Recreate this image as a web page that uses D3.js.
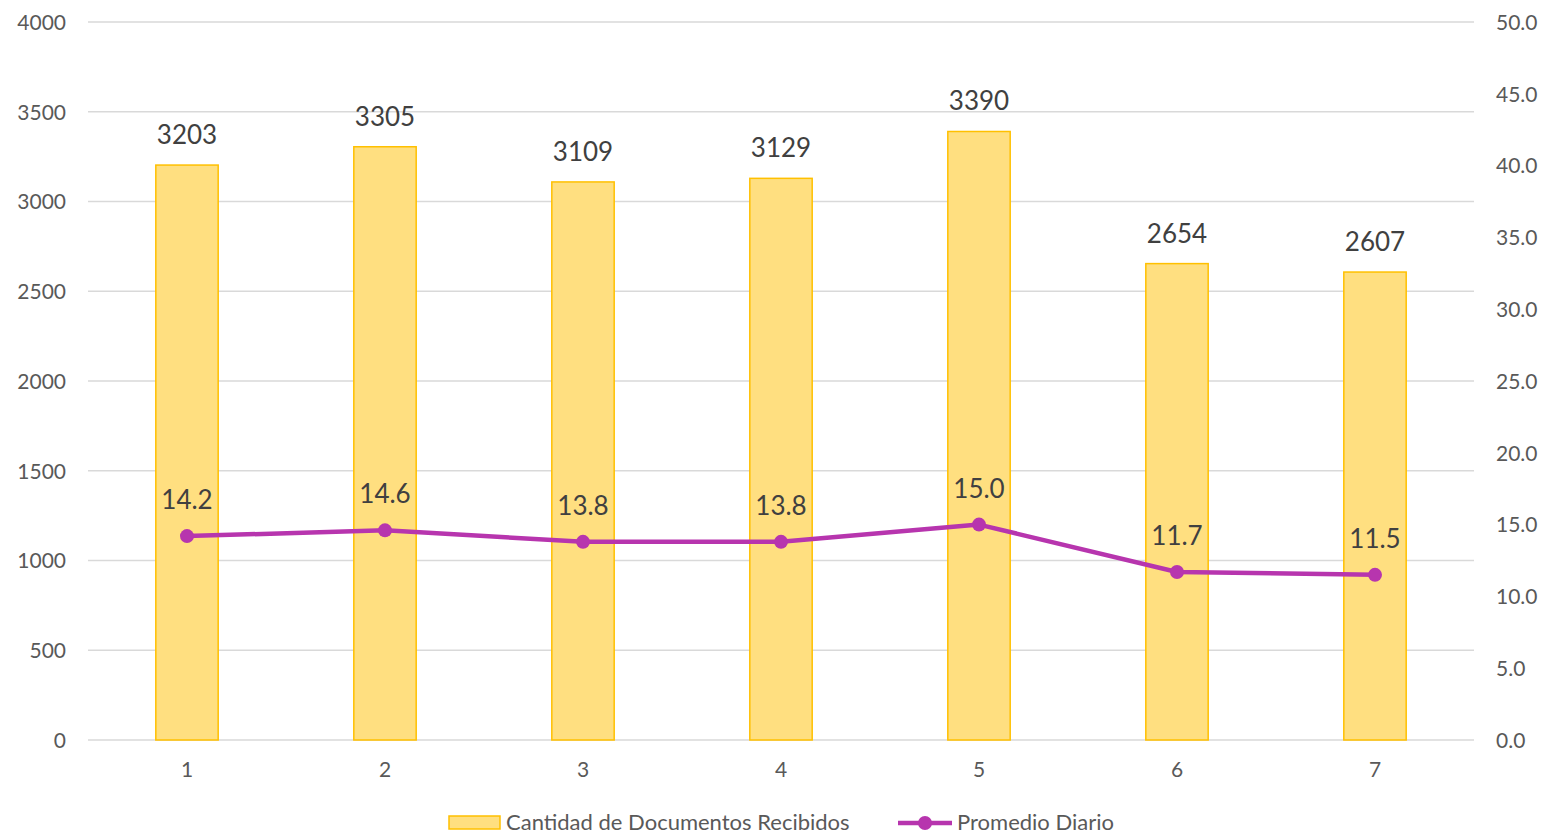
<!DOCTYPE html>
<html>
<head>
<meta charset="utf-8">
<script src="https://cdn.jsdelivr.net/npm/d3@7"></script>
<style>
  body { margin: 0; background: #fff; }
  text { font-family: Lato, "Open Sans", sans-serif; }
</style>
</head>
<body>
<div id="vis"></div>
<script>
// data
const CATEGORIES = ["1", "2", "3", "4", "5", "6", "7"];
const DOCUMENTOS = [3203, 3305, 3109, 3129, 3390, 2654, 2607];
const PROMEDIO = [14.2, 14.6, 13.8, 13.8, 15.0, 11.7, 11.5];
const LEFT_TICKS = [0, 500, 1000, 1500, 2000, 2500, 3000, 3500, 4000];
const RIGHT_TICKS = [0, 5, 10, 15, 20, 25, 30, 35, 40, 45, 50];
const SERIES_NAMES = ["Cantidad de Documentos Recibidos", "Promedio Diario"];

// set constants
const FRAME_WIDTH = 1543;
const FRAME_HEIGHT = 836;
const PLOT = {left: 88, right: 1474, top: 22, bottom: 740};

const BAR_FILL = "#FFDF80";
const BAR_STROKE = "#FFC000";
const LINE_COLOR = "#B735AE";

const FRAME = d3.select("#vis")
  .append("svg")
    .attr("width", FRAME_WIDTH)
    .attr("height", FRAME_HEIGHT);

const X_SCALE = d3.scaleBand()
  .domain(CATEGORIES)
  .range([PLOT.left, PLOT.right])
  .padding(0);

const Y_LEFT = d3.scaleLinear()
  .domain([0, 4000])
  .range([PLOT.bottom, PLOT.top]);

const Y_RIGHT = d3.scaleLinear()
  .domain([0, 50])
  .range([PLOT.bottom, PLOT.top]);

const BAR_W = X_SCALE.bandwidth() * 0.315;
const cx = (c) => X_SCALE(c) + X_SCALE.bandwidth() / 2;

// gridlines
FRAME.append("g")
  .selectAll("line")
  .data(LEFT_TICKS)
  .enter()
  .append("line")
    .attr("x1", PLOT.left)
    .attr("x2", PLOT.right)
    .attr("y1", d => Y_LEFT(d))
    .attr("y2", d => Y_LEFT(d))
    .attr("stroke", "#d9d9d9")
    .attr("stroke-width", 1.3);

// left axis
const leftAxis = FRAME.append("g")
  .attr("transform", "translate(" + (PLOT.left - 22) + ",0)")
  .call(d3.axisLeft(Y_LEFT).tickValues(LEFT_TICKS).tickSize(0).tickPadding(0).tickFormat(d3.format("d")));
leftAxis.select(".domain").remove();
leftAxis.selectAll("text")
  .attr("fill", "#595959")
  .style("font-size", "21px")
  .attr("dy", "0.35em");

// right axis
const rightAxis = FRAME.append("g")
  .attr("transform", "translate(" + (PLOT.right + 22) + ",0)")
  .call(d3.axisRight(Y_RIGHT).tickValues(RIGHT_TICKS).tickSize(0).tickPadding(0).tickFormat(d3.format(".1f")));
rightAxis.select(".domain").remove();
rightAxis.selectAll("text")
  .attr("fill", "#595959")
  .style("font-size", "21px")
  .attr("dy", "0.35em");

// bottom axis
const bottomAxis = FRAME.append("g")
  .attr("transform", "translate(0," + (PLOT.bottom + 22) + ")")
  .call(d3.axisBottom(X_SCALE).tickSize(0).tickPadding(0));
bottomAxis.select(".domain").remove();
bottomAxis.selectAll("text")
  .attr("fill", "#595959")
  .style("font-size", "21px")
  .attr("dy", "0.71em");

// bars
FRAME.append("g")
  .selectAll("rect")
  .data(DOCUMENTOS)
  .enter()
  .append("rect")
    .attr("x", (d, i) => cx(CATEGORIES[i]) - BAR_W / 2)
    .attr("y", d => Y_LEFT(d))
    .attr("width", BAR_W)
    .attr("height", d => PLOT.bottom - Y_LEFT(d))
    .attr("fill", BAR_FILL)
    .attr("stroke", BAR_STROKE)
    .attr("stroke-width", 1.5);

// bar labels
FRAME.append("g")
  .selectAll("text")
  .data(DOCUMENTOS)
  .enter()
  .append("text")
    .attr("x", (d, i) => cx(CATEGORIES[i]))
    .attr("y", d => Y_LEFT(d) - 21)
    .attr("text-anchor", "middle")
    .attr("fill", "#404040")
    .style("font-size", "26px")
    .text(d => d);

// line
const line = d3.line()
  .x((d, i) => cx(CATEGORIES[i]))
  .y(d => Y_RIGHT(d));

FRAME.append("path")
  .datum(PROMEDIO)
  .attr("d", line)
  .attr("fill", "none")
  .attr("stroke", LINE_COLOR)
  .attr("stroke-width", 4.5)
  .attr("stroke-linejoin", "round");

FRAME.append("g")
  .selectAll("circle")
  .data(PROMEDIO)
  .enter()
  .append("circle")
    .attr("cx", (d, i) => cx(CATEGORIES[i]))
    .attr("cy", d => Y_RIGHT(d))
    .attr("r", 7)
    .attr("fill", LINE_COLOR);

// line labels
FRAME.append("g")
  .selectAll("text")
  .data(PROMEDIO)
  .enter()
  .append("text")
    .attr("x", (d, i) => cx(CATEGORIES[i]))
    .attr("y", d => Y_RIGHT(d) - 27)
    .attr("text-anchor", "middle")
    .attr("fill", "#404040")
    .style("font-size", "26px")
    .text(d => d3.format(".1f")(d));

// legend (nudged up slightly so descenders stay inside the frame)
const LEG = FRAME.append("g");
LEG.append("rect")
  .attr("x", 449).attr("y", 816)
  .attr("width", 51).attr("height", 13)
  .attr("fill", BAR_FILL)
  .attr("stroke", BAR_STROKE)
  .attr("stroke-width", 1.5);
LEG.append("text")
  .attr("x", 506).attr("y", 830)
  .attr("fill", "#595959")
  .style("font-size", "22px")
  .text(SERIES_NAMES[0]);
LEG.append("line")
  .attr("x1", 898).attr("x2", 952)
  .attr("y1", 823).attr("y2", 823)
  .attr("stroke", LINE_COLOR)
  .attr("stroke-width", 4.5);
LEG.append("circle")
  .attr("cx", 925).attr("cy", 823)
  .attr("r", 7)
  .attr("fill", LINE_COLOR);
LEG.append("text")
  .attr("x", 957).attr("y", 830)
  .attr("fill", "#595959")
  .style("font-size", "22px")
  .text(SERIES_NAMES[1]);
</script>
</body>
</html>
